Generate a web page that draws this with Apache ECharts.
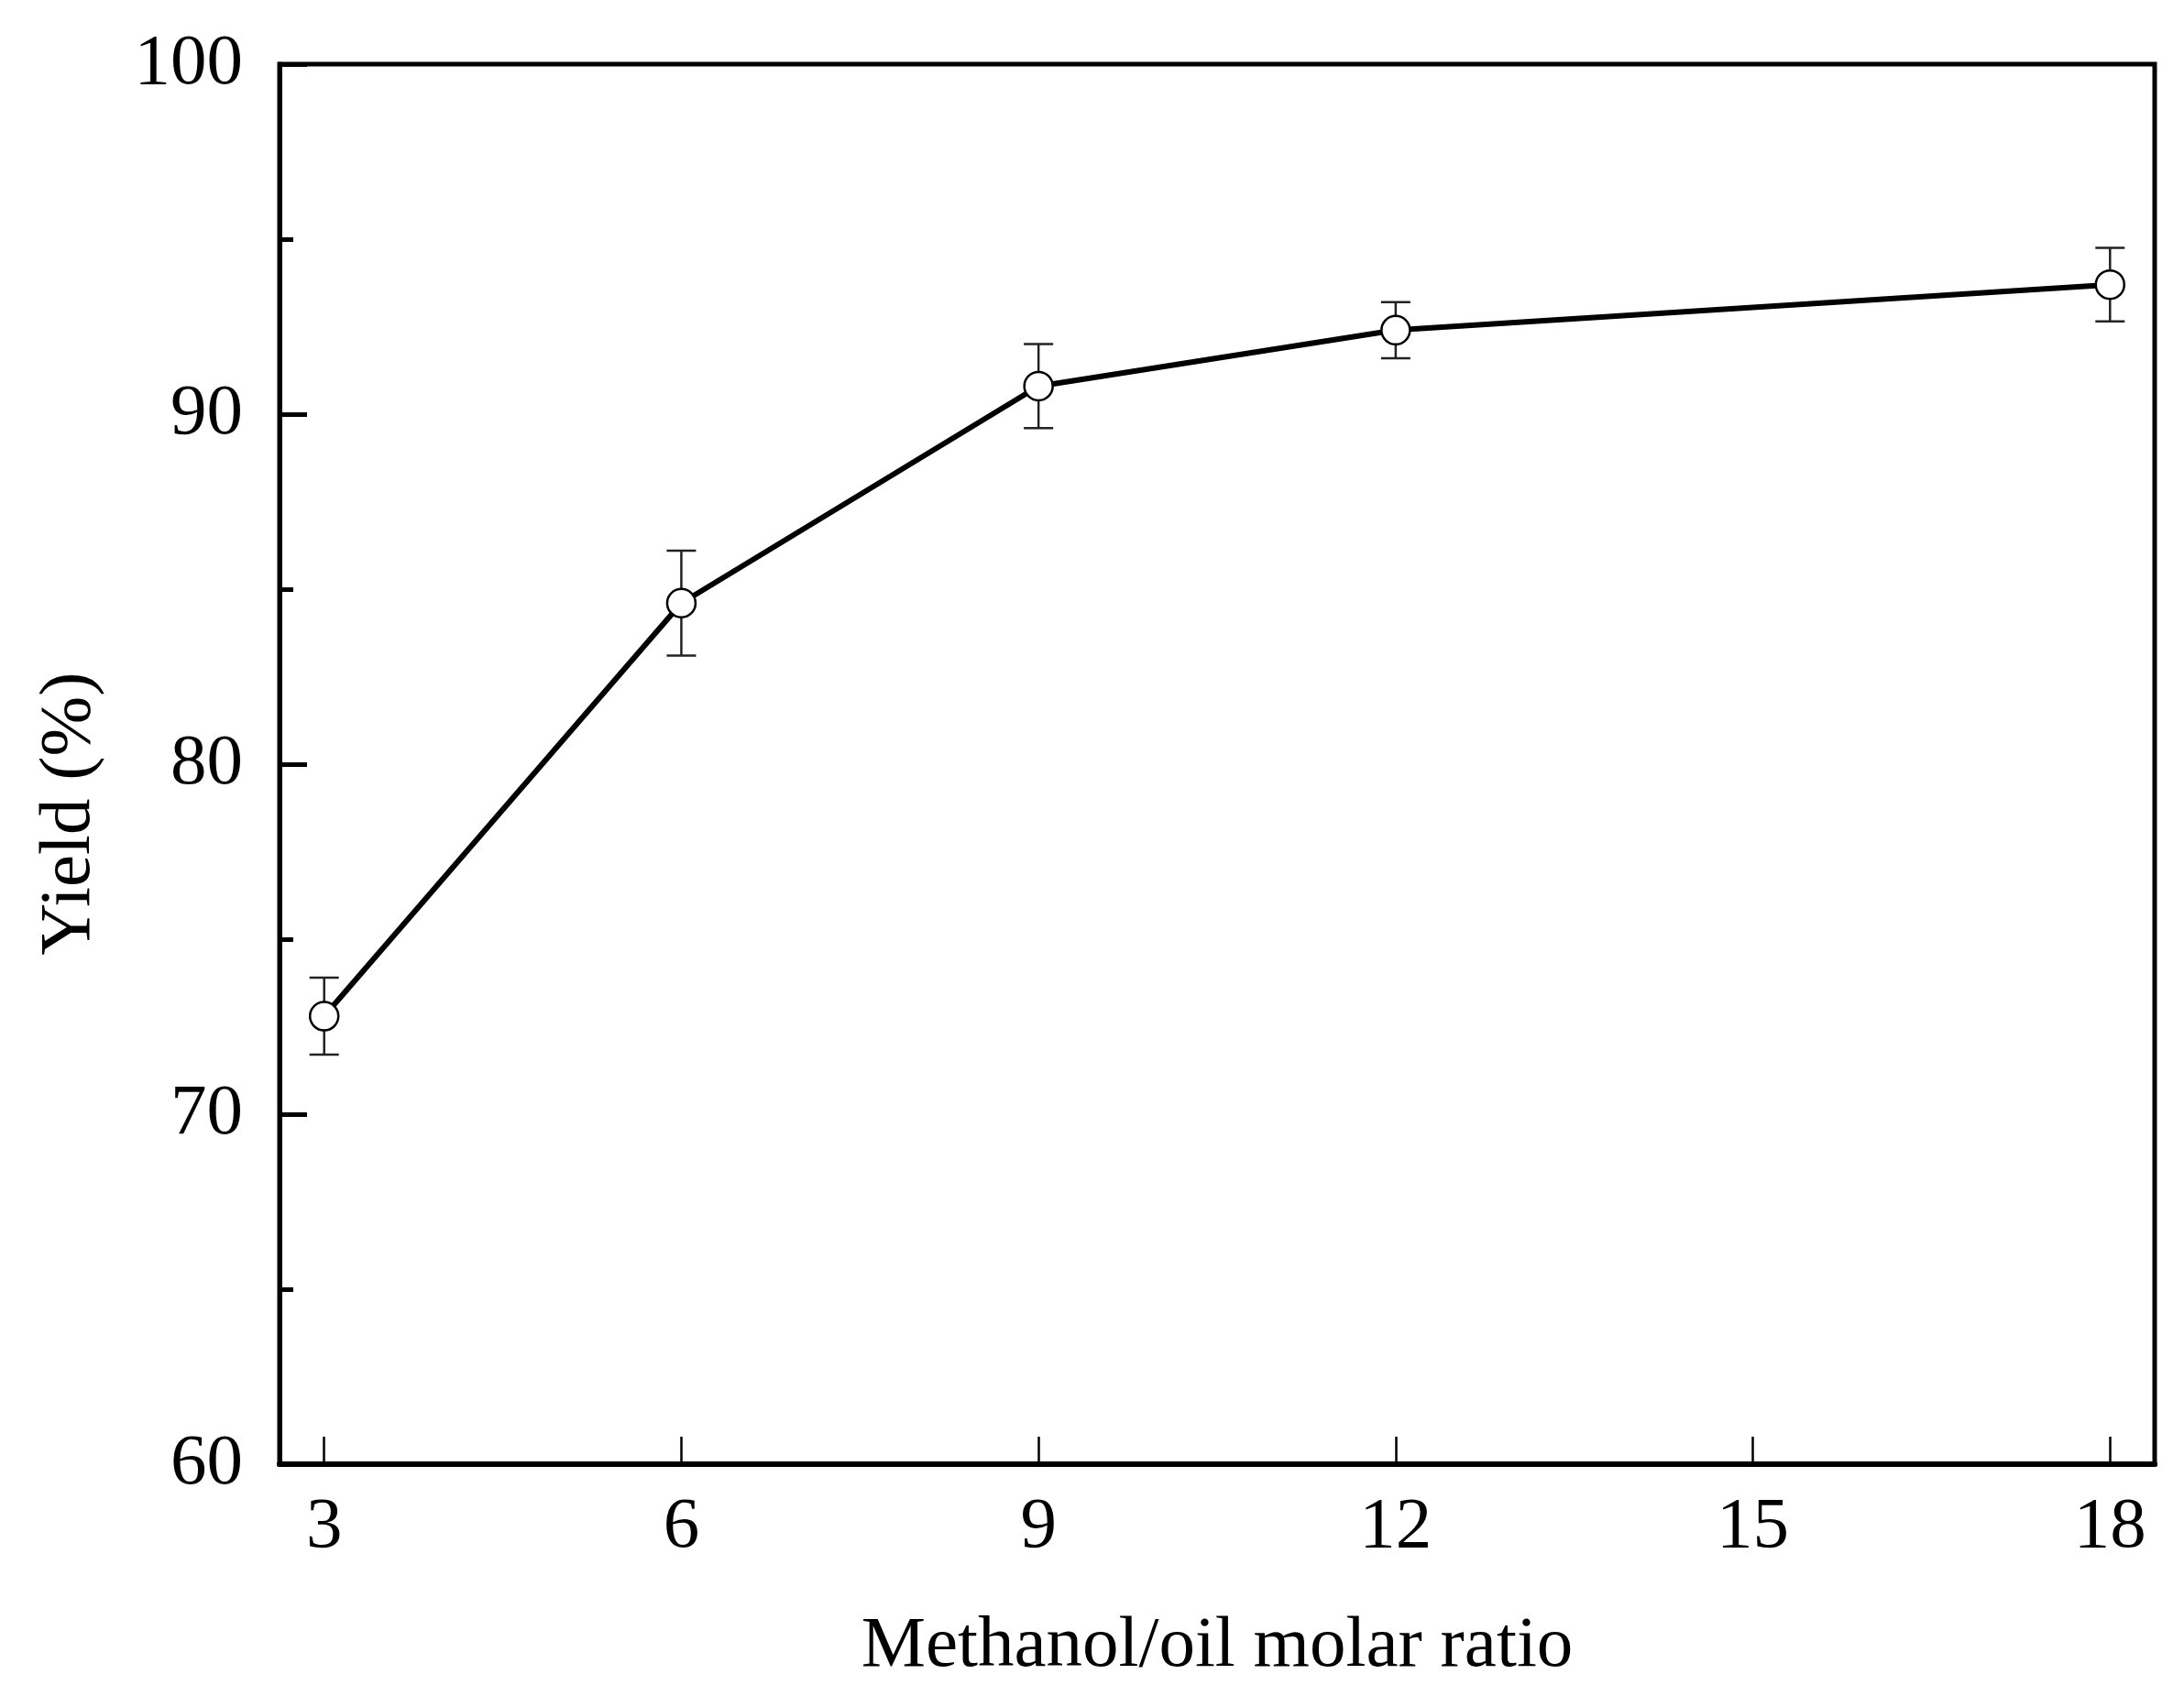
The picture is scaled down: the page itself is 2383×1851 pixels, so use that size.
<!DOCTYPE html>
<html>
<head>
<meta charset="utf-8">
<title>Yield vs methanol/oil molar ratio</title>
<script src="https://cdn.jsdelivr.net/npm/echarts@6/dist/echarts.min.js"></script>
<style>
  html, body { margin: 0; padding: 0; background: #fff; }
  #main { width: 2383px; height: 1851px; }
</style>
</head>
<body>
<div id="main"></div>
<script>
// 数据
var ratios = [3, 6, 9, 12, 18];
var yields = [72.8, 84.6, 90.8, 92.4, 93.7];
var errLow = [71.7, 83.1, 89.6, 91.6, 92.65];
var errHigh = [73.9, 86.1, 92.0, 93.2, 94.75];
var xTicks = [3, 6, 9, 12, 15, 18];

var FONT = '"Liberation Serif", "Times New Roman", serif';

var lineData = ratios.map(function (x, i) { return [x, yields[i]]; });
var errData = ratios.map(function (x, i) { return [x, errLow[i], errHigh[i]]; });

var myChart = echarts.init(document.getElementById('main'));

myChart.setOption({
    backgroundColor: '#ffffff',
    animation: false,
    grid: {
        left: 305, right: 32, top: 70, bottom: 253,
        show: true, borderColor: '#000', borderWidth: 5,
        backgroundColor: 'transparent'
    },
    xAxis: {
        type: 'value',
        min: 2.625,
        max: 18.375,
        name: 'Methanol/oil molar ratio',
        nameLocation: 'middle',
        nameGap: 160,
        nameTextStyle: { fontFamily: FONT, fontSize: 79, color: '#000' },
        axisLine: { show: true, lineStyle: { color: '#000', width: 6 } },
        axisTick: { show: true, inside: true, length: 30, customValues: xTicks, lineStyle: { color: '#000', width: 2.5 } },
        axisLabel: { customValues: xTicks, margin: 30, fontFamily: FONT, fontSize: 79, color: '#000' },
        splitLine: { show: false }
    },
    yAxis: {
        type: 'value',
        min: 60,
        max: 100,
        interval: 10,
        axisLine: { show: true, lineStyle: { color: '#000', width: 5 } },
        axisTick: { show: true, inside: true, length: 30, lineStyle: { color: '#000', width: 5 } },
        minorTick: { show: true, splitNumber: 2, length: 15, lineStyle: { color: '#000', width: 5 } },
        axisLabel: { margin: 40, fontFamily: FONT, fontSize: 79, color: '#000' },
        splitLine: { show: false }
    },
    graphic: [{
        type: 'text',
        x: 76,
        y: 888,
        rotation: Math.PI / 2,
        style: {
            text: 'Yield (%)',
            font: '79px ' + FONT,
            fill: '#000',
            align: 'center',
            verticalAlign: 'middle'
        }
    }],
    series: [{
        type: 'custom',
        name: 'error',
        z: 2,
        data: errData,
        renderItem: function (params, api) {
            var x = api.value(0);
            var lo = api.coord([x, api.value(1)]);
            var hi = api.coord([x, api.value(2)]);
            var hw = 16;
            var style = { stroke: '#222', lineWidth: 2.5 };
            return {
                type: 'group',
                children: [
                    { type: 'line', shape: { x1: lo[0], y1: lo[1], x2: hi[0], y2: hi[1] }, style: style },
                    { type: 'line', shape: { x1: lo[0] - hw, y1: lo[1], x2: lo[0] + hw, y2: lo[1] }, style: style },
                    { type: 'line', shape: { x1: hi[0] - hw, y1: hi[1], x2: hi[0] + hw, y2: hi[1] }, style: style }
                ]
            };
        }
    }, {
        type: 'line',
        name: 'yield',
        z: 3,
        data: lineData,
        symbol: 'circle',
        symbolSize: 31,
        showSymbol: true,
        lineStyle: { color: '#000', width: 6 },
        itemStyle: { color: '#fff', borderColor: '#000', borderWidth: 2.5 }
    }]
});
</script>
</body>
</html>
